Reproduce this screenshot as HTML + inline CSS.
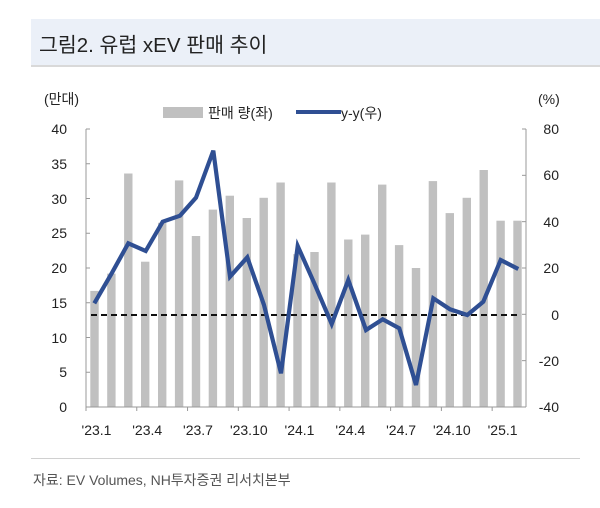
<!DOCTYPE html>
<html><head><meta charset="utf-8"><style>
body{margin:0;width:600px;height:508px;background:#fff;overflow:hidden;font-family:"Liberation Sans","Noto Sans CJK KR",sans-serif;}
.band{position:absolute;left:31px;top:19px;width:569px;height:46px;background:#ebf0f8;border-bottom:2px solid #d9d9d9;}
.title{position:absolute;left:39px;top:28px;font-size:20.5px;color:#222;white-space:nowrap;}
.foot{position:absolute;left:31px;top:458px;width:549px;border-top:1px solid #d0d0d0;}
.src{position:absolute;left:33px;top:470px;font-size:14px;color:#555;white-space:nowrap;}
svg{position:absolute;left:0;top:0;}
</style></head><body>
<div class="band"></div>
<div class="title">그림2. 유럽 xEV 판매 추이</div>
<svg width="600" height="508" font-family="Liberation Sans, Noto Sans CJK KR, sans-serif" font-size="14" fill="#222">
<g id="bars" fill="#c0c0c0"></g>
<line x1="86" y1="129" x2="86" y2="407" stroke="#999"/>
<line x1="526" y1="129" x2="526" y2="407" stroke="#999"/>
<line x1="86" y1="407" x2="526" y2="407" stroke="#999"/>
<g stroke="#999" id="ticks"></g>
<line x1="91" y1="315" x2="520" y2="315" stroke="#111" stroke-width="2" stroke-dasharray="6,4"/>
<polyline fill="none" stroke="#2f4f93" stroke-width="4.2" stroke-linejoin="miter" points="94.3,303.3 111.7,273.3 128.3,243.3 145.7,251 162.7,221.7 180,215.7 196,197.7 213.3,150.7 230,276.7 247.3,257.3 264,305 281,373.3 297.7,246 314.3,283.3 331.7,324 348.3,280 366,330 382.7,319.3 399.3,328.3 416,385 433.3,298.3 450,309.3 467.3,315 483.3,301.7 500.7,260 518.3,269"/>
<g text-anchor="end" font-size="14">
<text x="67" y="134">40</text><text x="67" y="169">35</text><text x="67" y="204">30</text><text x="67" y="238">25</text><text x="67" y="273">20</text><text x="67" y="308">15</text><text x="67" y="343">10</text><text x="67" y="377">5</text><text x="67" y="412">0</text>
</g>
<g text-anchor="end" font-size="14">
<text x="559" y="134">80</text><text x="559" y="180">60</text><text x="559" y="227">40</text><text x="559" y="273">20</text><text x="559" y="320">0</text><text x="559" y="366">-20</text><text x="559" y="412">-40</text>
</g>
<g text-anchor="middle" font-size="14" id="xl"></g>
<text x="44" y="104" font-size="14">(만대)</text>
<text x="538" y="104" font-size="14">(%)</text>
<rect x="163" y="107" width="40" height="11" fill="#c0c0c0"/>
<text x="208" y="118" font-size="14">판매 량(좌)</text>
<line x1="296" y1="112" x2="341" y2="112" stroke="#2f4f93" stroke-width="4"/>
<text x="341" y="118" font-size="14">y-y(우)</text>
</svg>
<div class="foot"></div>
<div class="src">자료: EV Volumes, NH투자증권 리서치본부</div>
<script>
var v=[16.7,19.2,33.6,20.9,26.5,32.6,24.6,28.4,30.4,27.2,30.1,32.3,22,22.3,32.3,24.1,24.8,32,23.3,20,32.5,27.9,30.1,34.1,26.8,26.8];
var s='',w=440/26;
v.forEach(function(d,i){var h=d*6.95;s+='<rect x="'+(86+(i+0.5)*w-4.2).toFixed(1)+'" y="'+(407-h).toFixed(1)+'" width="8.4" height="'+h.toFixed(1)+'"/>';});
document.getElementById('bars').innerHTML=s;
var t='';
for(var k=0;k<=8;k++){var y=129+k*34.75;t+='<line x1="86" y1="'+y+'" x2="90" y2="'+y+'"/>';}
for(var k=0;k<=6;k++){var y=129+k*46.33;t+='<line x1="522" y1="'+y+'" x2="526" y2="'+y+'"/>';}
for(var k=0;k<=8;k++){var x=86+k*3*w;t+='<line x1="'+x+'" y1="407" x2="'+x+'" y2="411"/>';}
document.getElementById('ticks').innerHTML=t;
var L=["'23.1","'23.4","'23.7","'23.10","'24.1","'24.4","'24.7","'24.10","'25.1"],x='';
L.forEach(function(l,i){x+='<text x="'+(86+(i*3+0.5)*w+2).toFixed(1)+'" y="435">'+l+'</text>';});
document.getElementById('xl').innerHTML=x;
</script>
</body></html>
